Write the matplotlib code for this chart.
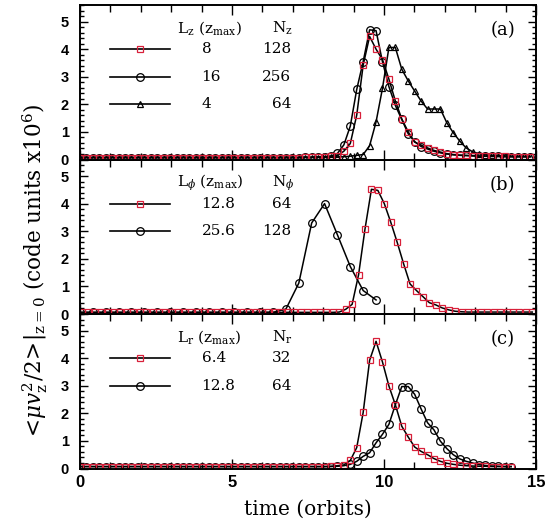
import numpy as np
import matplotlib

matplotlib.use("Agg")
import matplotlib.pyplot as plt
from matplotlib.ticker import MultipleLocator

plt.rcParams["mathtext.fontset"] = "dejavuserif"

# output cadence (orbits)
DT = 0.2117
t_a = np.arange(71) * DT
t_b_sq = np.arange(71) * DT + 0.06
t_b_ci = np.arange(24) * 2 * DT
t_c = np.arange(68) * DT

# panel (a): box height L_z
sq_a = [0.07, 0.07, 0.07, 0.07, 0.07, 0.07, 0.07, 0.07, 0.07, 0.07,
        0.07, 0.07, 0.07, 0.07, 0.07, 0.07, 0.07, 0.07, 0.07, 0.07,
        0.07, 0.07, 0.07, 0.07, 0.07, 0.07, 0.07, 0.07, 0.07, 0.07,
        0.07, 0.07, 0.07, 0.07, 0.07, 0.08, 0.08, 0.09, 0.10,
        0.11, 0.14, 0.30, 0.58, 1.61, 3.42, 4.46, 4.00, 3.62, 2.91, 2.12, 1.47,
        1.00, 0.63, 0.52, 0.42, 0.33, 0.27, 0.21, 0.18, 0.16, 0.15,
        0.14, 0.13, 0.12, 0.12, 0.11, 0.11, 0.10, 0.10, 0.10, 0.10]
ci_a = [0.07, 0.07, 0.07, 0.07, 0.07, 0.07, 0.07, 0.07, 0.07, 0.07,
        0.07, 0.07, 0.07, 0.07, 0.07, 0.07, 0.07, 0.07, 0.07, 0.07,
        0.07, 0.07, 0.07, 0.07, 0.07, 0.07, 0.07, 0.07, 0.07, 0.07,
        0.07, 0.07, 0.07, 0.07, 0.07, 0.08, 0.08, 0.09, 0.10,
        0.12, 0.22, 0.53, 1.21, 2.54, 3.55, 4.70, 4.67, 3.54, 2.64, 1.96, 1.45,
        0.93, 0.65, 0.47, 0.38, 0.30, 0.24, 0.20, 0.17, 0.15, 0.14,
        0.13, 0.12, 0.12, 0.11, 0.11, 0.10, 0.10, 0.10, 0.10, 0.10]
tr_a = [0.07, 0.07, 0.07, 0.07, 0.07, 0.07, 0.07, 0.07, 0.07, 0.07,
        0.07, 0.07, 0.07, 0.07, 0.07, 0.07, 0.07, 0.07, 0.07, 0.07,
        0.07, 0.07, 0.07, 0.07, 0.07, 0.07, 0.07, 0.07, 0.07, 0.07,
        0.07, 0.07, 0.07, 0.07, 0.07, 0.07, 0.07, 0.07, 0.07,
        0.08, 0.09, 0.10, 0.12, 0.15, 0.18, 0.50, 1.36, 2.58, 4.06, 4.06, 3.27,
        2.85, 2.48, 2.12, 1.83, 1.83, 1.83, 1.33, 0.97, 0.67, 0.42,
        0.28, 0.21, 0.17, 0.15, 0.14, 0.13, 0.12, 0.12, 0.11, 0.11]

# panel (b): box width L_phi
sq_b = [0.06, 0.06, 0.06, 0.06, 0.06, 0.06, 0.06, 0.06, 0.06, 0.06,
        0.06, 0.06, 0.06, 0.06, 0.06, 0.06, 0.06, 0.06, 0.06, 0.06,
        0.06, 0.06, 0.06, 0.06, 0.06, 0.06, 0.06, 0.06, 0.06, 0.06,
        0.06, 0.06, 0.06, 0.06, 0.06, 0.06, 0.06, 0.06, 0.06,
        0.06, 0.07, 0.17, 0.35, 1.42, 3.08, 4.52, 4.48, 4.00, 3.33, 2.60, 1.82,
        1.09, 0.85, 0.63, 0.41, 0.33, 0.22, 0.15, 0.10, 0.08, 0.07,
        0.07, 0.07, 0.07, 0.07, 0.07, 0.07, 0.07, 0.07, 0.07, 0.07]
ci_b = [0.06, 0.06, 0.06, 0.06, 0.06, 0.06, 0.06, 0.06,
        0.06, 0.06, 0.06, 0.06, 0.06, 0.06, 0.06, 0.06,
        0.18, 1.12, 3.30, 4.00, 2.87, 1.72, 0.85, 0.51]

# panel (c): box length L_r
sq_c = [0.07, 0.07, 0.07, 0.07, 0.07, 0.07, 0.07, 0.07, 0.07, 0.07,
        0.07, 0.07, 0.07, 0.07, 0.07, 0.07, 0.07, 0.07, 0.07, 0.07,
        0.07, 0.07, 0.07, 0.07, 0.07, 0.07, 0.07, 0.07, 0.07, 0.07,
        0.07, 0.07, 0.07, 0.07, 0.07, 0.07, 0.07, 0.07, 0.07,
        0.08, 0.10, 0.13, 0.29, 0.76, 2.03, 3.92, 4.61, 3.86, 2.99, 2.31, 1.53,
        1.14, 0.78, 0.62, 0.50, 0.36, 0.26, 0.19, 0.15, 0.12, 0.10,
        0.09, 0.08, 0.08, 0.07, 0.07, 0.07, 0.07]
ci_c = [0.07, 0.07, 0.07, 0.07, 0.07, 0.07, 0.07, 0.07, 0.07, 0.07,
        0.07, 0.07, 0.07, 0.07, 0.07, 0.07, 0.07, 0.07, 0.07, 0.07,
        0.07, 0.07, 0.07, 0.07, 0.07, 0.07, 0.07, 0.07, 0.07, 0.07,
        0.07, 0.07, 0.07, 0.07, 0.07, 0.07, 0.07, 0.07, 0.07,
        0.07, 0.08, 0.10, 0.15, 0.26, 0.44, 0.57, 0.93, 1.24, 1.60, 2.31, 2.97,
        2.97, 2.69, 2.16, 1.66, 1.40, 0.99, 0.72, 0.50, 0.35, 0.26,
        0.20, 0.14, 0.11, 0.09, 0.08, 0.07, 0.07]

# legend tables
head_a = [r"L$_{\rm z}$ (z$_{\rm max}$)", r"N$_{\rm z}$"]
len_a = ["8", "16", "4"]
num_a = ["128", "256", "64"]
head_b = [r"L$_{\phi}$ (z$_{\rm max}$)", r"N$_{\phi}$"]
len_b = ["12.8", "25.6"]
num_b = ["64", "128"]
head_c = [r"L$_{\rm r}$ (z$_{\rm max}$)", r"N$_{\rm r}$"]
len_c = ["6.4", "12.8"]
num_c = ["32", "64"]

RED = "#d8203a"
SERIF = "DejaVu Serif"
styles = {
    "sq": dict(marker="s", ms=4.5, mec=RED, mfc="none", mew=0.9),
    "ci": dict(marker="o", ms=5.5, mec="k", mfc="none", mew=0.9),
    "tr": dict(marker="^", ms=5, mec="k", mfc="none", mew=0.9),
}


def style_axes(ax, last):
    ax.set_xlim(0, 15)
    ax.set_ylim(0, 5.6)
    ax.xaxis.set_major_locator(MultipleLocator(5))
    ax.xaxis.set_minor_locator(MultipleLocator(1))
    ax.yaxis.set_major_locator(MultipleLocator(1))
    ax.yaxis.set_minor_locator(MultipleLocator(0.2))
    ax.tick_params(which="both", direction="in", top=True, right=True, width=1.0)
    ax.tick_params(which="major", axis="x", length=7)
    ax.tick_params(which="minor", axis="x", length=5)
    ax.tick_params(which="major", axis="y", length=6)
    ax.tick_params(which="minor", axis="y", length=3)
    ax.tick_params(axis="y", pad=8)
    ax.tick_params(axis="x", pad=5)
    for lab in ax.get_yticklabels():
        lab.set_fontfamily("Liberation Sans")
        lab.set_fontweight("bold")
        lab.set_fontsize(10.5)
    if last:
        for lab in ax.get_xticklabels():
            lab.set_fontfamily("Liberation Sans")
            lab.set_fontweight("bold")
            lab.set_fontsize(12)
    else:
        ax.tick_params(labelbottom=False)
    for s in ax.spines.values():
        s.set_linewidth(1.4)


def legend_table(ax, head, lens, nums, keys, tag):
    ax.text(3.2, 4.75, head[0], fontsize=11, family=SERIF, va="center", ha="left")
    ax.text(6.3, 4.75, head[1], fontsize=11, family=SERIF, va="center", ha="left")
    for i, (l, n, k) in enumerate(zip(lens, nums, keys)):
        y = 4 - i
        ax.plot([1.0, 2.95], [y, y], color="k", lw=1.2)
        ax.plot([1.97], [y], ls="none", **styles[k])
        ax.text(4.0, y, l, fontsize=11, family=SERIF, va="center", ha="left")
        ax.text(6.95, y, n, fontsize=11, family=SERIF, va="center", ha="right")
    ax.text(13.9, 4.68, tag, fontsize=13, family=SERIF, va="center", ha="center")


def curve(ax, t, y, key):
    ax.plot(t, y, color="k", lw=1.1, **styles[key])


fig = plt.figure(figsize=(5.49, 5.29), dpi=100)
left, width = 80 / 549, 456 / 549
h = 154.5 / 529
bottom = 1 - 468.5 / 529
ax_c = fig.add_axes([left, bottom, width, h])
ax_b = fig.add_axes([left, bottom + h, width, h])
ax_a = fig.add_axes([left, bottom + 2 * h, width, h])

curve(ax_a, t_a, tr_a, "tr")
curve(ax_a, t_a, ci_a, "ci")
curve(ax_a, t_a, sq_a, "sq")
legend_table(ax_a, head_a, len_a, num_a, ["sq", "ci", "tr"], "(a)")

curve(ax_b, t_b_ci, ci_b, "ci")
curve(ax_b, t_b_sq, sq_b, "sq")
legend_table(ax_b, head_b, len_b, num_b, ["sq", "ci"], "(b)")

curve(ax_c, t_c, ci_c, "ci")
curve(ax_c, t_c, sq_c, "sq")
legend_table(ax_c, head_c, len_c, num_c, ["sq", "ci"], "(c)")

style_axes(ax_a, False)
style_axes(ax_b, False)
style_axes(ax_c, True)

ax_c.set_xlabel("time (orbits)", fontsize=14.5, family=SERIF, labelpad=7)
fig.text(35 / 549, 1 - 272 / 529,
         r"$<\!\mu v_{\rm z}^2/2\!>\!|_{\rm z=0}$ (code units x10$^6$)",
         rotation=90, fontsize=15.5, family=SERIF, ha="center", va="center")

fig.savefig("out.png", dpi=100)
